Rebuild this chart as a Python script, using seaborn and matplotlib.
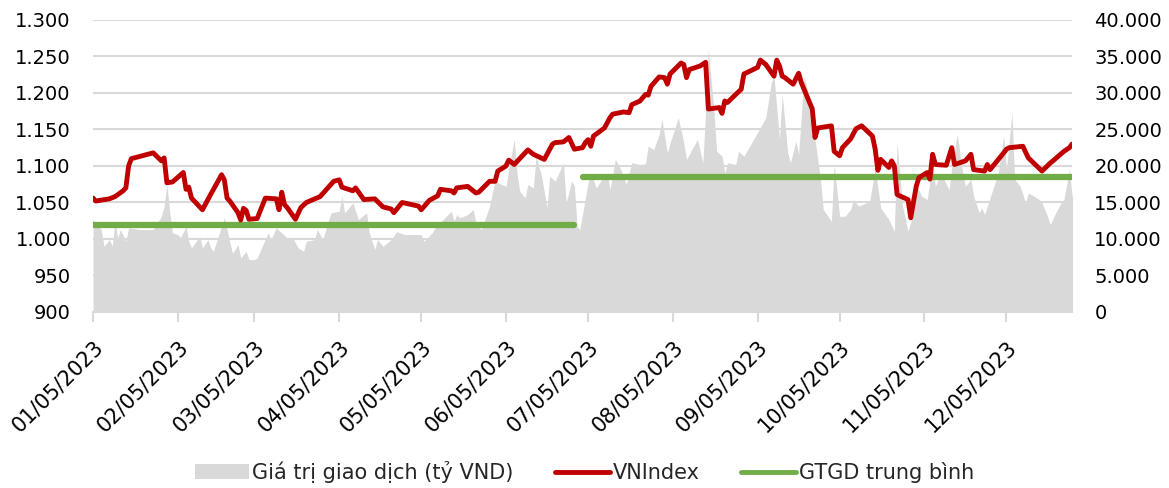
import matplotlib
matplotlib.use("Agg")
import matplotlib.pyplot as plt
import matplotlib.dates as mdates
from matplotlib.ticker import FuncFormatter, MultipleLocator
from matplotlib.transforms import ScaledTranslation
from matplotlib.patches import Patch
from matplotlib.lines import Line2D
import pandas as pd
import seaborn as sns

# =====================================================
# Data
# =====================================================

# VNIndex, turning points of the daily close
vn_dates = [
    "2023-01-05", "2023-01-06", "2023-01-11", "2023-01-13", "2023-01-16", "2023-01-17", "2023-01-18", "2023-01-19",
    "2023-01-27", "2023-01-30", "2023-01-31",
    "2023-02-01", "2023-02-03", "2023-02-07", "2023-02-08", "2023-02-09", "2023-02-10", "2023-02-14", "2023-02-16",
    "2023-02-17", "2023-02-21", "2023-02-22", "2023-02-23", "2023-02-24", "2023-02-27", "2023-02-28",
    "2023-03-01", "2023-03-02", "2023-03-03", "2023-03-06", "2023-03-09", "2023-03-13", "2023-03-14", "2023-03-15",
    "2023-03-16", "2023-03-17", "2023-03-20", "2023-03-22", "2023-03-24", "2023-03-29",
    "2023-04-03", "2023-04-05", "2023-04-06", "2023-04-10", "2023-04-11", "2023-04-14", "2023-04-18", "2023-04-21",
    "2023-04-24", "2023-04-25", "2023-04-28",
    "2023-05-04", "2023-05-05", "2023-05-08", "2023-05-11", "2023-05-12", "2023-05-16", "2023-05-17", "2023-05-18",
    "2023-05-22", "2023-05-25", "2023-05-26", "2023-05-30",
    "2023-06-01", "2023-06-02", "2023-06-05", "2023-06-06", "2023-06-08", "2023-06-13", "2023-06-15", "2023-06-19",
    "2023-06-22", "2023-06-23", "2023-06-26", "2023-06-28", "2023-06-30",
    "2023-07-03", "2023-07-04", "2023-07-05", "2023-07-06", "2023-07-07", "2023-07-11", "2023-07-13", "2023-07-14",
    "2023-07-18", "2023-07-20", "2023-07-21", "2023-07-24", "2023-07-26", "2023-07-27", "2023-07-28", "2023-07-31",
    "2023-08-02", "2023-08-03", "2023-08-04", "2023-08-08", "2023-08-09", "2023-08-10", "2023-08-11", "2023-08-15",
    "2023-08-17", "2023-08-18", "2023-08-22", "2023-08-23", "2023-08-24", "2023-08-25", "2023-08-28", "2023-08-30",
    "2023-08-31",
    "2023-09-05", "2023-09-06", "2023-09-08", "2023-09-11", "2023-09-12", "2023-09-13", "2023-09-14", "2023-09-15",
    "2023-09-18", "2023-09-20", "2023-09-21", "2023-09-25", "2023-09-26", "2023-09-27",
    "2023-10-02", "2023-10-03", "2023-10-05", "2023-10-06", "2023-10-09", "2023-10-11", "2023-10-13", "2023-10-17",
    "2023-10-18", "2023-10-19", "2023-10-20", "2023-10-23", "2023-10-24", "2023-10-25", "2023-10-26", "2023-10-27",
    "2023-10-30", "2023-10-31",
    "2023-11-02", "2023-11-03", "2023-11-06", "2023-11-07", "2023-11-08", "2023-11-09", "2023-11-13", "2023-11-15",
    "2023-11-16", "2023-11-20", "2023-11-22", "2023-11-23", "2023-11-27", "2023-11-28", "2023-11-29",
    "2023-12-04", "2023-12-05", "2023-12-06", "2023-12-11", "2023-12-13", "2023-12-18", "2023-12-21", "2023-12-22",
    "2023-12-26", "2023-12-28", "2023-12-29",
]
vn_values = [
    1056, 1052, 1055, 1058, 1066, 1070, 1100, 1110,
    1118, 1107, 1111,
    1077, 1078, 1091, 1068, 1071, 1056, 1040, 1054,
    1061, 1088, 1081, 1056, 1052, 1036, 1026,
    1042, 1039, 1027, 1028, 1056, 1055, 1040, 1064,
    1047, 1043, 1027, 1043, 1050, 1058,
    1079, 1081, 1071, 1066, 1070, 1054, 1055, 1044,
    1041, 1036, 1050,
    1045, 1040, 1053, 1059, 1068, 1066, 1063, 1070,
    1072, 1063, 1064, 1079,
    1079, 1093, 1100, 1108, 1102, 1122, 1116, 1109,
    1130, 1132, 1133, 1139, 1123,
    1125, 1132, 1136, 1127, 1141, 1152, 1166, 1171,
    1174, 1173, 1184, 1189, 1198, 1197, 1209, 1222,
    1221, 1212, 1226, 1241, 1239, 1221, 1232, 1237,
    1242, 1178, 1180, 1172, 1189, 1187, 1198, 1205,
    1226,
    1235, 1245, 1239, 1223, 1245, 1237, 1223, 1221,
    1212, 1227, 1214, 1178, 1139, 1152,
    1155, 1120, 1114, 1125, 1137, 1151, 1155, 1141,
    1123, 1094, 1109, 1098, 1107, 1100, 1061, 1059,
    1054, 1029,
    1072, 1084, 1091, 1082, 1116, 1102, 1101, 1125,
    1102, 1107, 1116, 1095, 1093, 1102, 1095,
    1118, 1123, 1125, 1127, 1111, 1093, 1104, 1107,
    1120, 1125, 1130,
]

# Trading value (bn VND): days after 5 Jan 2023 and value
vol_day = [
    0, 3, 4, 6, 7, 8, 9, 10, 12, 13, 17, 22, 25, 26, 27, 28, 29, 31, 32, 34,
    35, 36, 39, 40, 42, 43, 44, 48, 51, 53, 54, 56, 57, 59, 60, 64, 65, 67, 69, 71,
    73, 75, 77, 78, 81, 82, 84, 87, 90, 91, 92, 95, 97, 100, 101, 103, 104, 106, 109, 111,
    114, 120, 121, 124, 125, 131, 132, 133, 134, 137, 139, 140, 142, 145, 147, 148, 151, 152, 154, 155,
    156, 158, 159, 161, 162, 164, 166, 167, 169, 172, 173, 175, 176, 177, 178, 181, 182, 184, 186, 188,
    189, 191, 193, 195, 197, 200, 202, 203, 205, 207, 208, 210, 211, 214, 216, 217, 219, 221, 223, 224,
    225, 227, 228, 230, 231, 232, 235, 236, 238, 244, 246, 248, 249, 251, 252, 254, 255, 257, 258, 260,
    262, 264, 266, 267, 270, 271, 273, 275, 277, 278, 280, 284, 286, 288, 291, 293, 294, 296, 298, 300,
    301, 303, 305, 307, 308, 310, 313, 314, 316, 318, 319, 321, 322, 324, 325, 326, 327, 329, 331, 333,
    334, 336, 337, 339, 341, 342, 344, 346, 347, 349, 350, 352, 354, 355, 357, 358, 359,
]
vol_values = [
    12660, 11290, 9000, 9920, 9000, 12430, 10150, 11290, 9690, 11520, 11300, 11290, 13110, 14500, 17460, 13800, 10840, 10600, 10150, 11740,
    9690, 8780, 10370, 8780, 9920, 8780, 8310, 12890, 8000, 9230, 7410, 8310, 7170, 7170, 7410, 10840, 9920, 11520, 10840, 10150,
    10150, 8780, 8310, 9690, 9920, 11290, 9920, 13580, 13800, 15860, 13580, 14950, 12660, 13580, 10840, 8540, 9920, 9000, 9920, 11000,
    10600, 10600, 9690, 10840, 11520, 13800, 12430, 13350, 12890, 13350, 14030, 12210, 11290, 14490, 18150, 17690, 17230, 19520, 23630, 19070,
    16540, 15640, 17460, 17000, 21340, 18600, 14270, 18600, 17920, 20440, 14950, 17920, 17230, 11740, 11290, 17690, 19070, 17000, 18150, 19070,
    16770, 20890, 19520, 17500, 20440, 20200, 20300, 22710, 22260, 24320, 26380, 21810, 23180, 26610, 23180, 20890, 22260, 23630, 20440, 27750,
    35980, 27750, 22030, 21340, 19070, 20440, 20200, 22030, 21340, 25240, 26610, 31410, 32320, 23630, 29800, 21810, 20440, 23400, 21580, 32320,
    29120, 23630, 18150, 14030, 12430, 20200, 13110, 13110, 14030, 15400, 14490, 15170, 19750, 14270, 12660, 11060, 23180, 14490, 11060, 13580,
    17460, 15860, 15400, 20440, 17230, 19070, 16770, 19750, 24320, 19070, 17230, 18150, 15860, 13580, 14270, 13350, 14490, 16770, 19070, 24090,
    19520, 27300, 18150, 17230, 14950, 16320, 15860, 15400, 14950, 13110, 11970, 13580, 14950, 15400, 19520, 15860, 15860,
]

# Average trading value per half-year
avg_start = ["2023-01-05", "2023-07-03"]
avg_end = ["2023-06-30", "2023-12-29"]
avg_values = [11900, 18500]

vn = pd.DataFrame({"date": pd.to_datetime(vn_dates), "vnindex": vn_values})
vol = pd.DataFrame({
    "date": pd.Timestamp("2023-01-05") + pd.to_timedelta(vol_day, unit="D"),
    "value": vol_values,
})

# =====================================================
# Style
# =====================================================

sns.set_style("white")
plt.rcParams["font.family"] = ["DejaVu Sans"]
plt.rcParams["font.size"] = 14

GREY = "#D9D9D9"
RED = "#C00000"
GREEN = "#70AD47"

fig = plt.figure(figsize=(11.69, 4.88), dpi=100)
ax = fig.add_axes([0.0796, 0.3607, 0.8375, 0.5984])
ax2 = ax.twinx()

# Trading value area + averages (right axis)
ax2.fill_between(vol["date"], vol["value"], color=GREY, lw=0, zorder=1)
for s, e, v in zip(avg_start, avg_end, avg_values):
    seg = pd.DataFrame({"date": pd.to_datetime([s, e]), "value": [v, v]})
    sns.lineplot(data=seg, x="date", y="value", ax=ax2, color=GREEN,
                 lw=4.5, solid_capstyle="round", zorder=2)

ax2.set_ylim(0, 40000)
ax2.yaxis.set_major_locator(MultipleLocator(5000))
ax2.yaxis.grid(True, color=GREY, lw=1.5, zorder=0)
ax2.set_axisbelow(True)

# VNIndex (left axis)
sns.lineplot(data=vn, x="date", y="vnindex", ax=ax, color=RED, lw=3.5,
             solid_joinstyle="round", solid_capstyle="round")
ax.set_ylim(900, 1300)
ax.yaxis.set_major_locator(MultipleLocator(50))
ax.set_zorder(ax2.get_zorder() + 1)
ax.patch.set_visible(False)

ax.set_xlim(pd.Timestamp("2023-01-05"), pd.Timestamp("2023-12-29"))
ax.xaxis.set_major_locator(mdates.MonthLocator(bymonthday=5))
ax.xaxis.set_major_formatter(mdates.DateFormatter("%m/%d/%Y"))

dot_fmt = FuncFormatter(lambda v, p: f"{v:,.0f}".replace(",", "."))
ax.yaxis.set_major_formatter(dot_fmt)
ax2.yaxis.set_major_formatter(dot_fmt)

for a in (ax, ax2):
    a.set_xlabel("")
    a.set_ylabel("")
    for side in ("top", "left", "right", "bottom"):
        a.spines[side].set_visible(False)
    a.tick_params(axis="y", length=0, pad=16, labelsize=14, labelcolor="black")

ax.spines["bottom"].set_visible(True)
ax.spines["bottom"].set_color(GREY)
ax.spines["bottom"].set_linewidth(1.5)
ax.tick_params(axis="x", bottom=True, length=7, width=1.5, color=GREY,
               direction="out", labelsize=15, labelcolor="black", pad=2)
shift = ScaledTranslation(0.0, -0.12, fig.dpi_scale_trans)
for lab in ax.get_xticklabels():
    lab.set_rotation(45)
    lab.set_ha("right")
    lab.set_va("top")
    lab.set_rotation_mode("anchor")
    lab.set_transform(lab.get_transform() + shift)

# Legend
handles = [
    Patch(facecolor=GREY, edgecolor="none"),
    Line2D([0], [0], color=RED, lw=3.5),
    Line2D([0], [0], color=GREEN, lw=3.5),
]
labels = ["Giá trị giao dịch (tỷ VND)", "VNIndex", "GTGD trung bình"]
fig.legend(handles, labels, loc="center", bbox_to_anchor=(0.5, 0.033), ncol=3,
           frameon=False, fontsize=15, handlelength=2.6, handletextpad=0.15,
           columnspacing=2.0)

fig.savefig("out.png", dpi=100)
plt.close(fig)
